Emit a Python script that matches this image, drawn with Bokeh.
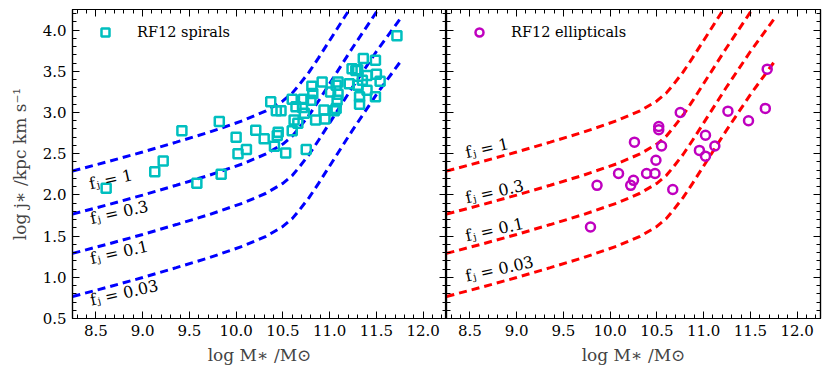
import numpy as np
from bokeh.plotting import figure
from bokeh.layouts import row
from bokeh.models import (LinearAxis, FixedTicker, PrintfTickFormatter, Range1d,
                          CustomLabelingPolicy)
from bokeh.core.properties import value
from bokeh.embed import file_html
from bokeh.resources import INLINE

# ---------------- data ----------------
spiral_x = [8.61, 9.13, 9.22, 9.42, 9.58, 9.82, 9.84, 10.00, 10.02, 10.11,
            10.21, 10.30, 10.37, 10.41, 10.43, 10.45, 10.44, 10.48, 10.53, 10.60,
            10.60, 10.62, 10.64, 10.66, 10.71, 10.72, 10.73, 10.75, 10.80, 10.81,
            10.82, 10.85, 10.92, 10.94, 10.95, 11.01, 11.05, 11.07, 11.07, 11.08,
            11.09, 11.09, 11.21, 11.24, 11.28, 11.30, 11.30, 11.32, 11.32, 11.35,
            11.36, 11.40, 11.40, 11.49, 11.49, 11.50, 11.54, 11.72]
spiral_y = [2.08, 2.28, 2.41, 2.78, 2.14, 2.89, 2.25, 2.70, 2.50, 2.55,
            2.785, 2.68, 3.13, 2.59, 3.02, 2.76, 2.72, 3.02, 2.51, 2.78,
            3.16, 2.91, 3.07, 2.87, 3.06, 3.16, 2.99, 2.55, 3.15, 3.32,
            3.23, 2.91, 3.37, 3.03, 2.92, 3.25, 3.02, 3.05, 3.33, 3.15,
            3.37, 3.22, 3.35, 3.53, 3.51, 3.33, 3.52, 3.19, 3.10, 3.39,
            3.655, 3.45, 3.27, 3.635, 3.19, 3.465, 3.38, 3.93]

ell_x = [11.68, 11.66, 11.48, 11.26, 11.12, 11.02, 10.955, 11.02, 10.75, 10.52,
         10.52, 10.55, 10.26, 10.49, 10.39, 10.48, 10.09, 10.67, 10.25, 10.22,
         9.86, 9.79]
ell_y = [3.526, 3.05, 2.90, 3.016, 2.594, 2.724, 2.54, 2.47, 3.00, 2.83,
         2.79, 2.594, 2.64, 2.42, 2.26, 2.26, 2.26, 2.065, 2.177, 2.116,
         2.116, 1.61]

# model curve for f_j = 1 (log j vs log M), other curves shifted by log10(f_j)
curve_x = [8.25, 8.65, 9.0, 9.36, 9.71, 10.07, 10.32, 10.5, 10.6, 10.67,
           10.78, 10.88, 10.97, 11.06, 11.24, 11.5, 11.77]
curve_y_fj1 = [2.29, 2.41, 2.52, 2.64, 2.76, 2.90, 3.02, 3.14, 3.235, 3.33,
               3.49, 3.66, 3.82, 3.98, 4.30, 4.74, 5.16]
fj_values = [1.0, 0.3, 0.1, 0.03]
fj_labels = ["fⱼ = 1", "fⱼ = 0.3", "fⱼ = 0.1", "fⱼ = 0.03"]

left_label_x = [8.43, 8.44, 8.44, 8.44]
left_label_y = [2.13, 1.71, 1.225, 0.72]
right_label_x = [8.455, 8.455, 8.455, 8.455]
right_label_y = [2.51, 1.96, 1.50, 1.01]

x_ticks = [8.5, 9.0, 9.5, 10.0, 10.5, 11.0, 11.5, 12.0]
y_ticks = [0.5, 1.0, 1.5, 2.0, 2.5, 3.0, 3.5, 4.0]

x_label = "log M∗ /M⊙"
y_label = "log j∗ /kpc km s⁻¹"

FONT = "DejaVu Serif"

NO_LABELS = """
const all = [...indices]
for (const i of all) { indices.unset(i) }
return indices
"""


def ticker(ticks, lo, hi):
    minors = [round(v, 2) for v in np.arange(lo, hi + 1e-9, 0.1)]
    return FixedTicker(ticks=ticks, minor_ticks=minors)


def style_axis(ax, show_labels):
    ax.major_tick_in = 7
    ax.major_tick_out = 0
    ax.minor_tick_in = 4
    ax.minor_tick_out = 0
    ax.major_tick_line_color = "black"
    ax.minor_tick_line_color = "black"
    ax.axis_line_color = "black"
    ax.axis_line_width = 1.2
    ax.major_tick_line_width = 1
    ax.minor_tick_line_width = 1
    if show_labels:
        ax.major_label_text_font = FONT
        ax.major_label_text_font_size = "15px"
        ax.major_label_text_color = "black"
        ax.major_label_standoff = 6
    else:
        ax.major_label_text_font_size = "0px"
        ax.major_label_standoff = 0
        ax.major_label_policy = CustomLabelingPolicy(code=NO_LABELS)
        ax.axis_label = None


def make_panel(left, scat_x, scat_y, marker, size, color, legend, line_color,
               lab_x, lab_y):
    p = figure(frame_width=374, frame_height=309,
               x_range=Range1d(8.25, 12.25), y_range=Range1d(0.5, 4.25),
               output_backend="svg", toolbar_location=None,
               min_border_left=72 if left else 0,
               min_border_right=0 if left else 8,
               min_border_top=9, min_border_bottom=52,
               background_fill_color="white", border_fill_color="white",
               outline_line_color="black", outline_line_width=1.2)
    p.xgrid.visible = False
    p.ygrid.visible = False

    xt = ticker(x_ticks, 8.3, 12.2)
    yt = ticker(y_ticks, 0.5, 4.2)
    fmt = PrintfTickFormatter(format="%.1f")

    p.xaxis.ticker = xt
    p.xaxis.formatter = fmt
    p.yaxis.ticker = yt
    p.yaxis.formatter = fmt
    style_axis(p.xaxis[0], True)
    p.xaxis.axis_label = x_label
    p.xaxis.axis_label_text_font = FONT
    p.xaxis.axis_label_text_font_size = "17px"
    p.xaxis.axis_label_text_font_style = "normal"
    p.xaxis.axis_label_standoff = 6
    if left:
        style_axis(p.yaxis[0], True)
        p.yaxis.axis_label = y_label
        p.yaxis.axis_label_text_font = FONT
        p.yaxis.axis_label_text_font_size = "17px"
        p.yaxis.axis_label_text_font_style = "normal"
        p.yaxis.axis_label_standoff = 10
    else:
        style_axis(p.yaxis[0], False)

    top = LinearAxis(ticker=xt, formatter=fmt)
    style_axis(top, False)
    p.add_layout(top, "above")
    right = LinearAxis(ticker=yt, formatter=fmt)
    style_axis(right, False)
    p.add_layout(right, "right")

    for fj in fj_values:
        ys = [v + np.log10(fj) for v in curve_y_fj1]
        p.line(curve_x, ys, line_color=line_color, line_width=3,
               line_dash="8 5")

    p.scatter(scat_x, scat_y, marker=marker, size=size, fill_color=None,
              line_color=color, line_width=2.5, legend_label=legend)

    p.text(x=lab_x, y=lab_y, text=fj_labels, angle=0.22,
           text_font=value(FONT), text_font_size=value("16px"),
           text_color="black", text_align="left",
           text_baseline="alphabetic")

    lg = p.legend[0]
    lg.location = (23, 276)
    lg.padding = 0
    lg.margin = 0
    lg.border_line_alpha = 0
    lg.background_fill_alpha = 0
    lg.glyph_width = 20
    lg.glyph_height = 20
    lg.label_standoff = 22
    lg.label_text_font = FONT
    lg.label_text_font_size = "14.5px"
    lg.label_text_color = "black"
    return p


p1 = make_panel(True, spiral_x, spiral_y, "square", 9, "#00bfbf",
                "RF12 spirals", "#0000ff", left_label_x, left_label_y)
p2 = make_panel(False, ell_x, ell_y, "circle", 9, "#bf00bf",
                "RF12 ellipticals", "#ff0000", right_label_x, right_label_y)

layout = row(p1, p2)
open("out.html", "w").write(file_html(layout, INLINE))
